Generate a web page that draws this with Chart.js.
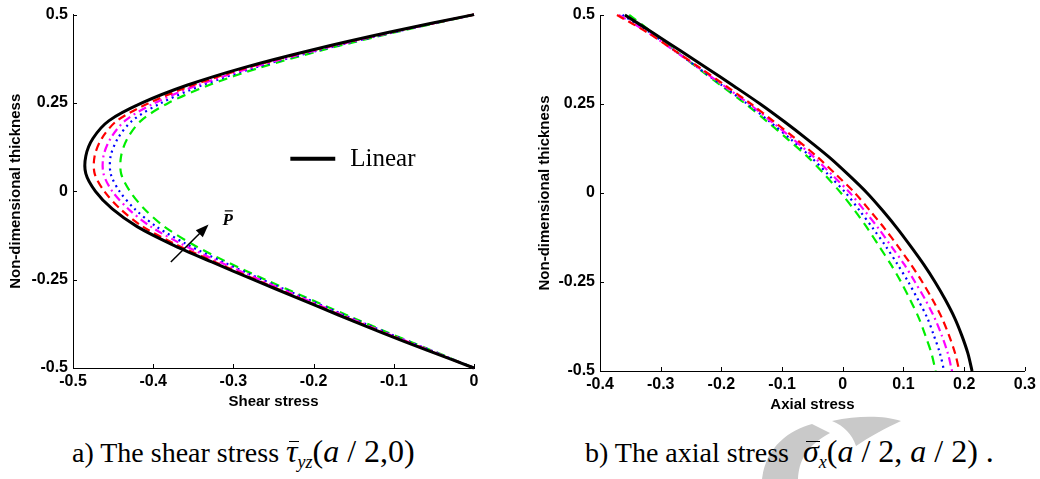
<!DOCTYPE html>
<html>
<head>
<meta charset="utf-8">
<script src="https://cdn.jsdelivr.net/npm/chart.js@4.4.1/dist/chart.umd.min.js"></script>
<style>
body { margin: 0; background: #fff; width: 1040px; height: 479px; overflow: hidden; position: relative; }
#shearChart { position: absolute; left: 0; top: 0; }
#axialChart { position: absolute; left: 520px; top: 0; }
#mark { position: absolute; left: 0; top: 0; }
.cap { position: absolute; top: 437px; font-family: "Liberation Serif", "Times New Roman", serif; font-size: 28px; line-height: 28px; white-space: nowrap; color: #000; }
.cap .m { font-size: 32px; }
.cap sub { font-size: 18px; vertical-align: -6px; line-height: 0; }
.bar { position: relative; display: inline-block; }
.bar::after { content: ""; position: absolute; left: 3px; right: -1px; top: 4px; border-top: 1.6px solid #000; }
</style>
</head>
<body>
<svg id="mark" width="1040" height="479">
  <path d="M812,424 C790,430 766,446 762,479 L798,479 C799,461 806,446 830,433 Z" fill="#c9c9c9"/>
  <path d="M832,421 C860,415 885,416 901,421 C886,428 869,437 856,446 C852,434 844,426 832,421 Z" fill="#c9c9c9"/>
</svg>
<canvas id="shearChart" width="500" height="420"></canvas>
<canvas id="axialChart" width="520" height="420"></canvas>
<div class="cap" style="left:72px">a) The shear stress <span class="m"><span class="bar"><i>τ</i></span><sub><i>yz</i></sub>(<i>a</i> / 2,0)</span></div>
<div class="cap" style="left:585px">b) The axial stress&nbsp; <span class="m"><span class="bar"><i>σ</i></span><sub><i>x</i></sub>(<i>a</i> / 2, <i>a</i> / 2) .</span></div>
<script>
// non-dimensional thickness, top to bottom
const thickness = [0.5, 0.45, 0.4, 0.35, 0.3, 0.25, 0.2, 0.15, 0.1, 0.05, 0, -0.05, -0.1, -0.15, -0.2, -0.25, -0.3, -0.35, -0.4, -0.45, -0.5];

// a) shear stress
const shearLinear = [0, -0.106, -0.202, -0.287, -0.358, -0.414, -0.455, -0.475, -0.484, -0.484, -0.472, -0.451, -0.42, -0.377, -0.327, -0.275, -0.222, -0.169, -0.115, -0.058, 0];
const shearP1 = [0, -0.104, -0.199, -0.282, -0.351, -0.405, -0.445, -0.464, -0.473, -0.473, -0.461, -0.441, -0.413, -0.372, -0.323, -0.272, -0.22, -0.167, -0.113, -0.057, 0];
const shearP2 = [0, -0.102, -0.195, -0.277, -0.345, -0.398, -0.435, -0.453, -0.462, -0.462, -0.451, -0.431, -0.403, -0.364, -0.317, -0.267, -0.216, -0.164, -0.111, -0.055, 0];
const shearP3 = [0, -0.1, -0.192, -0.273, -0.339, -0.39, -0.426, -0.444, -0.453, -0.453, -0.442, -0.423, -0.396, -0.358, -0.313, -0.264, -0.213, -0.162, -0.109, -0.054, 0];
const shearP4 = [0, -0.098, -0.188, -0.267, -0.331, -0.381, -0.415, -0.432, -0.44, -0.44, -0.429, -0.411, -0.386, -0.351, -0.308, -0.26, -0.21, -0.159, -0.107, -0.053, 0];

// b) axial stress
const axialLinear = [-0.359, -0.313, -0.268, -0.223, -0.179, -0.136, -0.096, -0.058, -0.022, 0.01, 0.04, 0.066, 0.09, 0.112, 0.133, 0.152, 0.169, 0.184, 0.196, 0.206, 0.213];
const axialP1 = [-0.372, -0.321, -0.277, -0.234, -0.192, -0.151, -0.113, -0.076, -0.041, -0.01, 0.02, 0.045, 0.069, 0.091, 0.112, 0.131, 0.148, 0.163, 0.175, 0.185, 0.192];
const axialP2 = [-0.369, -0.32, -0.278, -0.236, -0.195, -0.154, -0.117, -0.081, -0.047, -0.017, 0.012, 0.036, 0.059, 0.08, 0.101, 0.119, 0.136, 0.151, 0.163, 0.173, 0.18];
const axialP3 = [-0.363, -0.317, -0.277, -0.237, -0.197, -0.157, -0.12, -0.085, -0.052, -0.023, 0.005, 0.028, 0.05, 0.071, 0.09, 0.108, 0.124, 0.139, 0.15, 0.16, 0.167];
const axialP4 = [-0.352, -0.313, -0.276, -0.238, -0.199, -0.16, -0.124, -0.09, -0.057, -0.029, -0.003, 0.02, 0.041, 0.06, 0.079, 0.096, 0.111, 0.125, 0.136, 0.146, 0.153];

const shearTicks = [-0.5, -0.4, -0.3, -0.2, -0.1, 0];
const axialTicks = [-0.4, -0.3, -0.2, -0.1, 0, 0.1, 0.2, 0.3];
const thickTicks = [-0.5, -0.25, 0, 0.25, 0.5];

// annotations (data units)
const legendLine = [-0.229, -0.173, 0.092];
const arrowFrom = [-0.378, -0.2];
const arrowTo = [-0.331, -0.094];
const pLabel = [-0.307, -0.078];

const lineStyles = [
  { color: '#000000', width: 3, dash: [] },
  { color: '#ff0000', width: 2.2, dash: [8, 5] },
  { color: '#ff00ff', width: 2.2, dash: [8, 4, 2, 4] },
  { color: '#0000ff', width: 2.2, dash: [2, 4] },
  { color: '#00ee00', width: 2.2, dash: [9, 6] }
];

const tickFont = { family: '"Liberation Sans", Arial, sans-serif', size: 16, weight: 'bold' };
const titleFont = { family: '"Liberation Sans", Arial, sans-serif', size: 15, weight: 'bold' };

function pts(xs) {
  return xs.map((x, i) => ({ x: x, y: thickness[i] }));
}

// MATLAB style ticks pointing into the plot
const inwardTicks = {
  id: 'inwardTicks',
  afterDraw(chart) {
    const ctx = chart.ctx, xs = chart.scales.x, ys = chart.scales.y;
    ctx.save();
    ctx.strokeStyle = '#000';
    ctx.lineWidth = 1;
    ctx.beginPath();
    xs.ticks.forEach(t => {
      const px = Math.round(xs.getPixelForValue(t.value)) + 0.5;
      ctx.moveTo(px, ys.bottom);
      ctx.lineTo(px, ys.bottom - 4);
    });
    ys.ticks.forEach(t => {
      const py = Math.round(ys.getPixelForValue(t.value)) + 0.5;
      ctx.moveTo(xs.left, py);
      ctx.lineTo(xs.left + 4, py);
    });
    ctx.stroke();
    ctx.restore();
  }
};

const shearNotes = {
  id: 'shearNotes',
  afterDatasetsDraw(chart) {
    const ctx = chart.ctx, xs = chart.scales.x, ys = chart.scales.y;
    ctx.save();
    // legend
    const ly = ys.getPixelForValue(legendLine[2]);
    ctx.strokeStyle = '#000';
    ctx.lineWidth = 4;
    ctx.beginPath();
    ctx.moveTo(xs.getPixelForValue(legendLine[0]), ly);
    ctx.lineTo(xs.getPixelForValue(legendLine[1]), ly);
    ctx.stroke();
    ctx.fillStyle = '#000';
    ctx.font = '25px "Liberation Serif", "Times New Roman", serif';
    ctx.textBaseline = 'middle';
    ctx.fillText('Linear', xs.getPixelForValue(legendLine[1]) + 15, ly + 1);
    // arrow
    const x1 = xs.getPixelForValue(arrowFrom[0]), y1 = ys.getPixelForValue(arrowFrom[1]);
    const x2 = xs.getPixelForValue(arrowTo[0]), y2 = ys.getPixelForValue(arrowTo[1]);
    const a = Math.atan2(y2 - y1, x2 - x1);
    ctx.lineWidth = 1.5;
    ctx.beginPath();
    ctx.moveTo(x1, y1);
    ctx.lineTo(x2 - 8 * Math.cos(a), y2 - 8 * Math.sin(a));
    ctx.stroke();
    ctx.beginPath();
    ctx.moveTo(x2, y2);
    ctx.lineTo(x2 - 13 * Math.cos(a) + 5 * Math.sin(a), y2 - 13 * Math.sin(a) - 5 * Math.cos(a));
    ctx.lineTo(x2 - 13 * Math.cos(a) - 5 * Math.sin(a), y2 - 13 * Math.sin(a) + 5 * Math.cos(a));
    ctx.closePath();
    ctx.fill();
    // P bar label
    const px = xs.getPixelForValue(pLabel[0]), py = ys.getPixelForValue(pLabel[1]);
    ctx.font = 'italic bold 17px "Liberation Serif", "Times New Roman", serif';
    ctx.textAlign = 'center';
    ctx.fillText('P', px, py + 2);
    ctx.lineWidth = 1.2;
    ctx.beginPath();
    ctx.moveTo(px - 3, py - 8);
    ctx.lineTo(px + 5, py - 8);
    ctx.stroke();
    ctx.restore();
  }
};

function makeChart(id, series, xMin, xMax, xTicks, xTitle, box, extra) {
  const plugins = [inwardTicks];
  if (extra) plugins.push(extra);
  return new Chart(document.getElementById(id), {
    type: 'scatter',
    data: {
      datasets: series.map((s, i) => ({
        data: pts(s),
        showLine: true,
        borderColor: lineStyles[i].color,
        borderWidth: lineStyles[i].width,
        borderDash: lineStyles[i].dash,
        pointRadius: 0,
        tension: 0.3,
        fill: false,
        clip: 6
      }))
    },
    options: {
      responsive: false,
      animation: false,
      events: [],
      layout: { padding: box.pad },
      plugins: { legend: { display: false }, tooltip: { enabled: false } },
      scales: {
        x: {
          type: 'linear', min: xMin, max: xMax,
          afterBuildTicks: s => { s.ticks = xTicks.map(v => ({ value: v })); },
          afterFit: s => { s.height = 46; },
          grid: { display: false, drawTicks: false },
          border: { display: true, color: '#000', width: 1 },
          ticks: { color: '#000', font: tickFont, padding: 4, maxRotation: 0, autoSkip: false, callback: v => String(v) },
          title: { display: true, text: xTitle, color: '#000', font: titleFont, padding: { top: 0, bottom: 3 } }
        },
        y: {
          type: 'linear', min: -0.5, max: 0.5,
          afterBuildTicks: s => { s.ticks = thickTicks.map(v => ({ value: v })); },
          afterFit: s => { s.width = box.yWidth; },
          grid: { display: false, drawTicks: false },
          border: { display: true, color: '#000', width: 1 },
          ticks: { color: '#000', font: tickFont, padding: 5, autoSkip: false, callback: v => String(v) },
          title: { display: true, text: 'Non-dimensional thickness', color: '#000', font: titleFont, padding: { top: box.yTitlePad, bottom: 0 } }
        }
      }
    },
    plugins: plugins
  });
}

makeChart('shearChart', [shearLinear, shearP1, shearP2, shearP3, shearP4], -0.5, 0, shearTicks, 'Shear stress',
  { pad: { left: 0, top: 13, right: 26, bottom: 6 }, yWidth: 73, yTitlePad: 7 }, shearNotes);

makeChart('axialChart', [axialLinear, axialP1, axialP2, axialP3, axialP4], -0.4, 0.3, axialTicks, 'Axial stress',
  { pad: { left: 0, top: 15, right: 14, bottom: 3 }, yWidth: 80, yTitlePad: 16 }, null);
</script>
</body>
</html>
